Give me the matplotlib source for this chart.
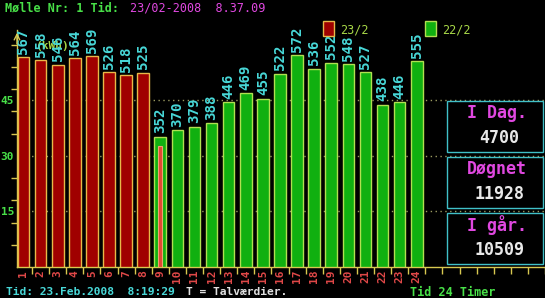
import matplotlib
matplotlib.use("Agg")
import matplotlib.pyplot as plt
from matplotlib.patches import Rectangle
import numpy as np

# --- data ---
hours_today = [1, 2, 3, 4, 5, 6, 7, 8]
today_vals = [567, 558, 546, 564, 569, 526, 518, 525]
hours_yday = list(range(9, 25))
yday_vals = [352, 370, 379, 388, 446, 469, 455, 522, 572, 536, 552, 548, 527, 438, 446, 555]
partial_hour = 9
partial_val = 327          # hour in progress (no label)
grid_levels = [150, 300, 450]
grid_labels = ["15", "30", "45"]
hour_labels = [str(h) for h in range(1, 25)]
legend_labels = ["23/2", "22/2"]
box_titles = ["I Dag.", "Døgnet", "I går."]
box_values = ["4700", "11928", "10509"]

# --- style ---
BG = "black"
AXC = "#d8c850"
RED, RED_E = "#a00000", "#e8b848"
GRN, GRN_E = "#10b010", "#b0e050"
CYAN = "#48d8d8"
GREEN_TXT = "#48e048"
MAG = "#e048e0"
MONO = "DejaVu Sans Mono"

W, H = 545, 298
fx = lambda px: px / W
fy = lambda py: 1 - py / H

fig = plt.figure(figsize=(W / 100, H / 100), dpi=100, facecolor=BG)
ax = fig.add_axes([fx(17), 31 / H, 528 / W, 237 / H], facecolor=BG)
ax.set_xlim(0.62, 31.5)
ax.set_ylim(0, 640)

# dotted level lines behind bars
for lv in grid_levels:
    ax.axhline(lv, color="#9a9a60", lw=1, ls=(0, (1, 2.5)), zorder=1)

bw = 0.68
ax.bar(hours_today, today_vals, bw, color=RED, edgecolor=RED_E, lw=1, zorder=3)
ax.bar(hours_yday, yday_vals, bw, color=GRN, edgecolor=GRN_E, lw=1, zorder=3)
ax.bar([partial_hour], [partial_val], 0.24, color="#e04830", edgecolor="#f0a070", lw=0.8, zorder=4)

for h, v in list(zip(hours_today, today_vals)) + list(zip(hours_yday, yday_vals)):
    ax.text(h, v + 9, str(v), rotation=90, ha="center", va="bottom", color=CYAN,
            fontsize=10.2, family=MONO, fontweight="bold", zorder=5)

# axes styling
for s in ["top", "right"]:
    ax.spines[s].set_visible(False)
for s in ["left", "bottom"]:
    ax.spines[s].set_color(AXC)
    ax.spines[s].set_linewidth(1)

ax.set_xticks(range(1, 25))
ax.set_xticklabels(hour_labels, rotation=90, color="#e04848", fontsize=8,
                   family=MONO, fontweight="bold")
ax.set_xticks(np.arange(1.5, 32, 1), minor=True)
ax.tick_params(axis="x", which="major", length=0, pad=2)
ax.tick_params(axis="x", which="minor", length=5, color=AXC, width=1, direction="out")

ax.set_yticks(grid_levels)
ax.set_yticklabels(grid_labels, color=GREEN_TXT, fontsize=8, family=MONO, fontweight="bold")
ax.set_yticks(np.arange(60, 640, 60), minor=True)
ax.tick_params(axis="y", which="major", length=0, pad=2)
ax.tick_params(axis="y", which="minor", length=4, color=AXC, width=1, direction="out")

# arrow head on the y axis
ax.annotate("", xy=(0, 1.0), xycoords="axes fraction", xytext=(0, 0.93),
            arrowprops=dict(arrowstyle="->", color=AXC, lw=1), zorder=6)

# unit text partly hidden behind bars and labels
ax.text(1.75, 598, "(kWh)", color="#a8d848", fontsize=8, family=MONO,
        fontweight="bold", va="center", zorder=2)

# --- header ---
fig.text(fx(5), fy(8), "Mølle Nr: 1 Tid:", color=GREEN_TXT, fontsize=8.5,
         family=MONO, fontweight="bold", va="center")
fig.text(fx(130), fy(8), "23/02-2008  8.37.09", color=MAG, fontsize=8.5,
         family=MONO, va="center")

# legend
for x0, fc, ec, lab in [(323, RED, RED_E, legend_labels[0]), (425, GRN, GRN_E, legend_labels[1])]:
    fig.patches.append(Rectangle((fx(x0), fy(36)), 11 / W, 15 / H, transform=fig.transFigure,
                                 facecolor=fc, edgecolor=ec, lw=1, zorder=6))
    fig.text(fx(x0 + 17), fy(30), lab, color="#a8d848", fontsize=8.5, family=MONO,
             va="center", zorder=6)

# --- right boxes ---
boxes = [(101, 152), (157, 208), (213, 264)]
for (top, bot), t, v in zip(boxes, box_titles, box_values):
    fig.patches.append(Rectangle((fx(447), fy(bot)), 96 / W, (bot - top) / H,
                                 transform=fig.transFigure, facecolor=BG,
                                 edgecolor="#40c0c8", lw=1, zorder=7))
    fig.text(fx(497), fy(top + 12), t, color=MAG, fontsize=12, family=MONO,
             fontweight="bold", ha="center", va="center", zorder=8)
    fig.text(fx(499), fy(top + 37), v, color="#e8e8e8", fontsize=12, family=MONO,
             fontweight="bold", ha="center", va="center", zorder=8)

# --- footer ---
fig.text(fx(6), fy(292), "Tid: 23.Feb.2008  8:19:29", color=CYAN, fontsize=8.1,
         family=MONO, fontweight="bold", va="center")
fig.text(fx(186), fy(292), "T = Talværdier.", color="#e0e0e0", fontsize=8.1,
         family=MONO, fontweight="bold", va="center")
fig.text(fx(410), fy(292), "Tid 24 Timer", color=GREEN_TXT, fontsize=8.5,
         family=MONO, fontweight="bold", va="center")

fig.savefig("out.png", dpi=100, facecolor=BG)
